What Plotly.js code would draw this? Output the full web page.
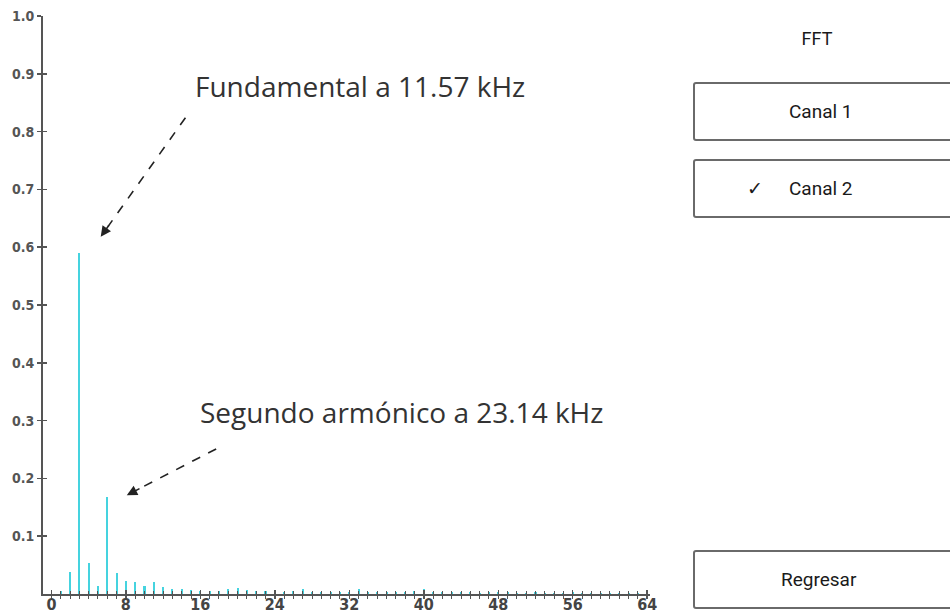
<!DOCTYPE html>
<html lang="es">
<head>
    <meta charset="UTF-8">
    <title>FFT</title>
    <script src="https://cdn.plot.ly/plotly-3.0.1.min.js"></script>
    <style>
        body, html {
            margin: 0;
            padding: 0;
            width: 950px;
            height: 616px;
            overflow: hidden;
            background: white;
            font-family: Roboto, Arial, sans-serif;
        }
        #chart {
            position: absolute;
            left: 0;
            top: 0;
            width: 950px;
            height: 616px;
        }
        .title {
            position: absolute;
            left: 767px;
            width: 100px;
            top: 28px;
            text-align: center;
            font-size: 18px;
            color: #1a1a1a;
        }
        .btn {
            position: absolute;
            left: 693px;
            width: 270px;
            height: 59px;
            border: 2px solid #6a6a6a;
            border-radius: 3px;
            box-sizing: border-box;
            background: white;
            font-size: 19px;
            color: #1a1a1a;
            line-height: 55px;
            padding-left: 94px;
        }
        .btn .check {
            position: absolute;
            left: 52px;
            font-size: 19px;
        }
    </style>
</head>
<body>
    <div id="chart"></div>
    <div class="title">FFT</div>
    <div class="btn" style="top: 82px;">Canal 1</div>
    <div class="btn" style="top: 159px;"><span class="check">✓</span>Canal 2</div>
    <div class="btn" style="top: 550px; padding-left: 86px;">Regresar</div>

    <script>
        // FFT bins (channel 2), bin 3 = 11.57 kHz
        const bins = Array.from({length: 64}, (_, i) => i);
        const magnitudes = [
            0.000, 0.005, 0.038, 0.590, 0.053, 0.013, 0.168, 0.037,
            0.022, 0.020, 0.013, 0.020, 0.012, 0.009, 0.009, 0.007,
            0.006, 0.005, 0.006, 0.008, 0.011, 0.007, 0.006, 0.005,
            0.005, 0.004, 0.006, 0.008, 0.004, 0.004, 0.003, 0.004,
            0.004, 0.008, 0.004, 0.003, 0.003, 0.003, 0.003, 0.005,
            0.009, 0.003, 0.003, 0.003, 0.004, 0.003, 0.002, 0.003,
            0.004, 0.003, 0.002, 0.002, 0.003, 0.002, 0.002, 0.002,
            0.003, 0.002, 0.002, 0.002, 0.002, 0.002, 0.002, 0.002
        ];
        const yTicks = [0.1, 0.2, 0.3, 0.4, 0.5, 0.6, 0.7, 0.8, 0.9, 1.0];
        const xTicks = [0, 8, 16, 24, 32, 40, 48, 56, 64];

        // annotation arrows: [tailX, tailY, headX, headY]
        const arrowFund = [14.4, 0.824, 5.3, 0.618];
        const arrowSeg = [17.7, 0.251, 8.1, 0.171];

        const axisColor = '#555';
        const narrow = '"DejaVu Sans Condensed", "Liberation Sans Narrow", Arial, sans-serif';
        const noteFont = {family: '"Open Sans", "Noto Sans", sans-serif', size: 28, color: '#333'};

        // rough px per data unit, only used to size the arrowhead stub
        const pxX = 9.32, pxY = 578;

        const data = [
            {
                x: bins,
                y: magnitudes,
                type: 'bar',
                width: 0.22,
                marker: {color: '#45d3df'},
                hoverinfo: 'skip'
            },
            // empty trace so the overlay axes (inner half of the ticks) get drawn
            {x: [], y: [], xaxis: 'x2', yaxis: 'y2', type: 'scatter', hoverinfo: 'skip'}
        ];

        function stubFrac(a) {
            const len = Math.hypot((a[0] - a[2]) * pxX, (a[1] - a[3]) * pxY);
            return 16 / len;
        }
        function dashed(a) {
            const f = stubFrac(a) * 0.8;
            return {
                type: 'line', xref: 'x', yref: 'y',
                x0: a[0], y0: a[1], x1: a[2] + (a[0] - a[2]) * f, y1: a[3] + (a[1] - a[3]) * f,
                line: {color: '#222', width: 1.6, dash: 'dash'}
            };
        }
        function head(a) {
            const f = stubFrac(a);
            return {
                x: a[2], y: a[3], xref: 'x', yref: 'y',
                ax: a[2] + (a[0] - a[2]) * f, ay: a[3] + (a[1] - a[3]) * f,
                axref: 'x', ayref: 'y',
                text: '', showarrow: true,
                arrowhead: 2, arrowsize: 1.3, arrowwidth: 1.6, arrowcolor: '#222'
            };
        }

        const layout = {
            width: 950,
            height: 616,
            margin: {l: 43, r: 300, t: 16, b: 22},
            paper_bgcolor: 'white',
            plot_bgcolor: 'white',
            showlegend: false,
            bargap: 0,
            xaxis: {
                range: [-0.9, 64.3],
                tickvals: xTicks,
                ticktext: xTicks.map(String),
                ticks: 'outside',
                ticklen: 3,
                tickwidth: 1.5,
                tickcolor: axisColor,
                ticklabelstandoff: -8,
                minor: {dtick: 1, ticks: 'outside', ticklen: 3, tickwidth: 1, tickcolor: axisColor, showgrid: false},
                showline: true,
                linecolor: axisColor,
                linewidth: 2,
                showgrid: false,
                zeroline: false,
                fixedrange: true,
                tickfont: {family: narrow, size: 16, color: '#444', weight: 'bold'}
            },
            yaxis: {
                range: [0, 1],
                tickvals: yTicks,
                ticktext: yTicks.map(v => v.toFixed(1)),
                ticks: 'outside',
                ticklen: 4,
                tickwidth: 1.5,
                tickcolor: axisColor,
                showline: true,
                linecolor: axisColor,
                linewidth: 2,
                showgrid: false,
                zeroline: false,
                fixedrange: true,
                tickfont: {family: narrow, size: 14, color: '#555', weight: 'bold'}
            },
            xaxis2: {
                overlaying: 'x', matches: 'x', anchor: 'y2',
                tickvals: xTicks, ticks: 'inside', ticklen: 4, tickwidth: 1.5, tickcolor: axisColor,
                minor: {dtick: 1, ticks: 'inside', ticklen: 3, tickwidth: 1, tickcolor: axisColor, showgrid: false},
                showticklabels: false, showline: false, showgrid: false, zeroline: false
            },
            yaxis2: {
                overlaying: 'y', matches: 'y', anchor: 'x2',
                tickvals: yTicks, ticks: 'inside', ticklen: 4, tickwidth: 1.5, tickcolor: axisColor,
                showticklabels: false, showline: false, showgrid: false, zeroline: false
            },
            shapes: [dashed(arrowFund), dashed(arrowSeg)],
            annotations: [
                {
                    x: 33.2, y: 0.879, xref: 'x', yref: 'y',
                    text: 'Fundamental a 11.57 kHz', showarrow: false,
                    font: noteFont
                },
                {
                    x: 37.6, y: 0.315, xref: 'x', yref: 'y',
                    text: 'Segundo armónico a 23.14 kHz', showarrow: false,
                    font: noteFont
                },
                head(arrowFund),
                head(arrowSeg)
            ]
        };

        Plotly.newPlot('chart', data, layout, {displayModeBar: false, staticPlot: true});
    </script>
</body>
</html>
